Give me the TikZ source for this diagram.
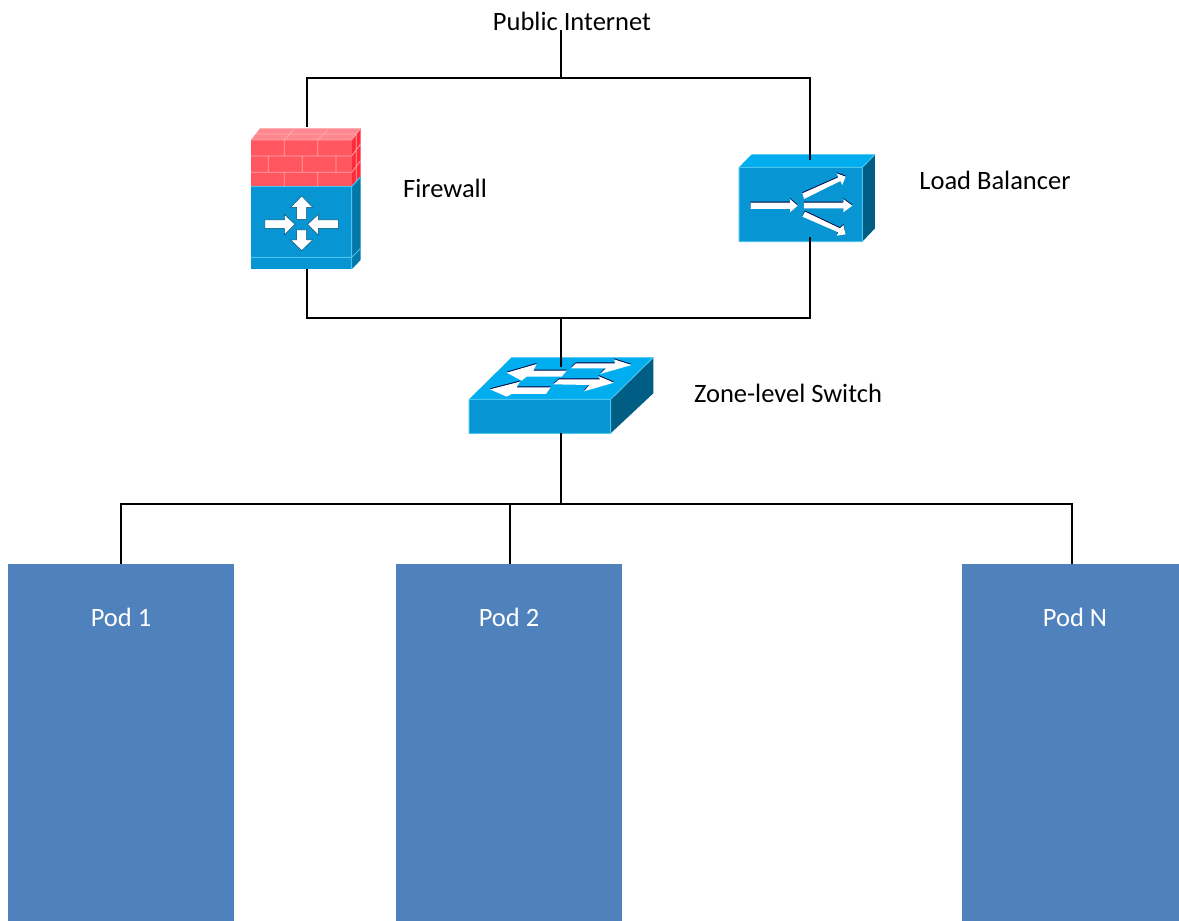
\documentclass[tikz,border=0pt]{standalone}
\usepackage{fontspec}
\setmainfont{Carlito}
\definecolor{podblue}{HTML}{4F81BD}
\definecolor{devfront}{HTML}{0795D3}
\definecolor{devtop}{HTML}{00AEEF}
\definecolor{devedge}{HTML}{4CC4F0}
\definecolor{lbside}{HTML}{005E85}
\definecolor{fwside}{HTML}{0079A8}
\definecolor{brick}{HTML}{FF5660}
\definecolor{bricktop}{HTML}{FF8890}
\definecolor{brickside}{HTML}{FF2A3A}
\definecolor{mortar}{HTML}{FFA8A8}
\tikzset{
  x=1pt,y=-1pt,
  label/.style={font=\fontsize{26.5}{30}\selectfont,text=black,inner sep=0pt},
  podbox/.style={fill=podblue,draw=none,inner sep=0pt,anchor=north west},
  podlabel/.style={font=\fontsize{26.5}{30}\selectfont,text=white,inner sep=0pt},
  wire/.style={draw=black,line width=2pt},
  glyph/.style={fill=white,draw=none},
  shadowglyph/.style={fill=black!75!blue,draw=none,shift={(0,-3)}},
  softglyph/.style={fill=white,draw=black!45!devfront,line width=.5pt},
  edge/.style={draw=devedge,line width=1pt,line join=round},
  mortarline/.style={draw=mortar,line width=.8pt},
}
\newcommand{\arrowglyph}[1]{\fill[shadowglyph] #1; \fill[glyph] #1;}
\begin{document}
\begin{tikzpicture}
\path[use as bounding box,fill=white] (0,0) rectangle (1179,921);

% firewall
\begin{scope}[shift={(240,120)},x=0.3333pt,y=-0.3333pt]
  \fill[bricktop] (33,60) -- (60,25) -- (362,25) -- (335,60) -- cycle;
  \fill[brickside] (335,60) -- (362,25) -- (362,170) -- (335,200) -- cycle;
  \fill[brick] (33,60) rectangle (335,200);
  \fill[fwside] (335,200) -- (362,170) -- (362,420) -- (335,448) -- cycle;
  \fill[devfront] (33,200) rectangle (335,448);
  \draw[mortarline] (33,60) -- (335,60) (33,108) -- (335,108) (33,157) -- (335,157)
    (133,60) -- (133,108) (233,60) -- (233,108)
    (85,108) -- (85,157) (187,108) -- (187,157) (288,108) -- (288,157)
    (133,157) -- (133,200) (233,157) -- (233,200)
    (133,60) -- (165,25) (233,60) -- (268,25) (48,42) -- (349,42)
    (335,60) -- (362,25) (335,108) -- (362,72) (335,157) -- (362,122)
    (349,42) -- (349,185);
  \draw[edge] (33,200) -- (335,200) (33,412) -- (335,412) -- (362,385)
    (335,200) -- (362,170) (335,200) -- (335,448);
  \draw[softglyph] (185,228) -- (218,262) -- (200,262) -- (200,298) -- (170,298) -- (170,262) -- (152,262) -- cycle;
  \draw[softglyph] (185,392) -- (218,360) -- (200,360) -- (200,330) -- (170,330) -- (170,360) -- (152,360) -- cycle;
  \draw[softglyph] (165,313) -- (133,283) -- (133,300) -- (75,300) -- (75,325) -- (133,325) -- (133,345) -- cycle;
  \draw[softglyph] (203,313) -- (235,283) -- (235,300) -- (295,300) -- (295,325) -- (235,325) -- (235,345) -- cycle;
\end{scope}

% load balancer
\begin{scope}[shift={(730,145)},x=0.3333pt,y=-0.3333pt]
  \fill[devtop] (27,67) -- (65,28) -- (435,28) -- (397,67) -- cycle;
  \fill[lbside] (397,67) -- (435,28) -- (435,250) -- (397,290) -- cycle;
  \fill[devfront] (27,67) rectangle (397,290);
  \draw[edge] (27,290) -- (27,67) -- (397,67) -- (397,290) -- cycle (397,67) -- (435,28);
  \arrowglyph{(62,173) -- (180,173) -- (180,162) -- (203,182) -- (180,202) -- (180,192) -- (62,192) -- cycle}
  \arrowglyph{(222,173) -- (340,173) -- (340,162) -- (367,182) -- (340,202) -- (340,190) -- (222,190) -- cycle}
  \arrowglyph{(217,145) -- (325,97) -- (320,85) -- (347,95) -- (337,120) -- (331,108) -- (222,162) -- cycle}
  \arrowglyph{(225,200) -- (330,250) -- (340,240) -- (347,268) -- (320,272) -- (325,262) -- (217,215) -- cycle}
\end{scope}

% switch
\begin{scope}[shift={(460,350)},x=0.3333pt,y=-0.3333pt]
  \fill[devtop] (27,148) -- (155,22) -- (580,22) -- (452,148) -- cycle;
  \fill[lbside] (452,148) -- (580,22) -- (580,130) -- (452,250) -- cycle;
  \fill[devfront] (27,148) rectangle (452,250);
  \draw[edge] (27,250) -- (27,148) -- (452,148) -- (452,250) -- cycle (452,148) -- (580,22);
  \arrowglyph{(140,68) -- (230,42) -- (220,62) -- (320,62) -- (305,80) -- (200,80) -- (185,92) -- cycle}
  \arrowglyph{(332,55) -- (348,40) -- (465,40) -- (462,28) -- (515,45) -- (420,72) -- (438,55) -- cycle}
  \arrowglyph{(90,118) -- (180,95) -- (170,112) -- (272,112) -- (258,132) -- (155,132) -- (140,140) -- cycle}
  \arrowglyph{(280,103) -- (297,88) -- (420,88) -- (415,78) -- (462,98) -- (372,124) -- (388,105) -- cycle}
\end{scope}

% pods
\node[podbox,minimum width=226pt,minimum height=357pt] (pod1) at (8,564) {};
\node[podbox,minimum width=226pt,minimum height=357pt] (pod2) at (396,564) {};
\node[podbox,minimum width=217pt,minimum height=357pt] (podn) at (962,564) {};
\node[podlabel] (pod1t) at (121,617.5) {Pod 1};
\node[podlabel] (pod2t) at (509,617.5) {Pod 2};
\node[podlabel] (podnt) at (1075,617.5) {Pod N};

% connection points
\coordinate (inet) at (561,30);
\coordinate (topj) at (561,78);
\coordinate (fwtop) at (307,127);
\coordinate (fwbot) at (307,269);
\coordinate (lbtop) at (810,160);
\coordinate (lbbot) at (810,237);
\coordinate (midj) at (561,318);
\coordinate (swtop) at (561,367);
\coordinate (swbot) at (561,433);
\coordinate (podj) at (561,504);
\coordinate (p1top) at (121,564);
\coordinate (p2top) at (510,564);
\coordinate (pntop) at (1072,564);

% wires
\draw[wire] (inet) -- (topj);
\draw[wire] (fwtop) |- (topj) -| (lbtop);
\draw[wire] (fwbot) |- (midj) -| (lbbot);
\draw[wire] (midj) -- (swtop);
\draw[wire] (swbot) -- (podj);
\draw[wire] (p1top) |- (podj) -| (pntop);
\draw[wire] (p2top) -- (p2top |- podj);

% labels
\node[label] (internet) at (572,21.5) {Public Internet};
\node[label] (fwlabel) at (445,188) {Firewall};
\node[label] (lblabel) at (995,180.5) {Load Balancer};
\node[label] (swlabel) at (788,393.5) {Zone-level Switch};
\end{tikzpicture}
\end{document}
